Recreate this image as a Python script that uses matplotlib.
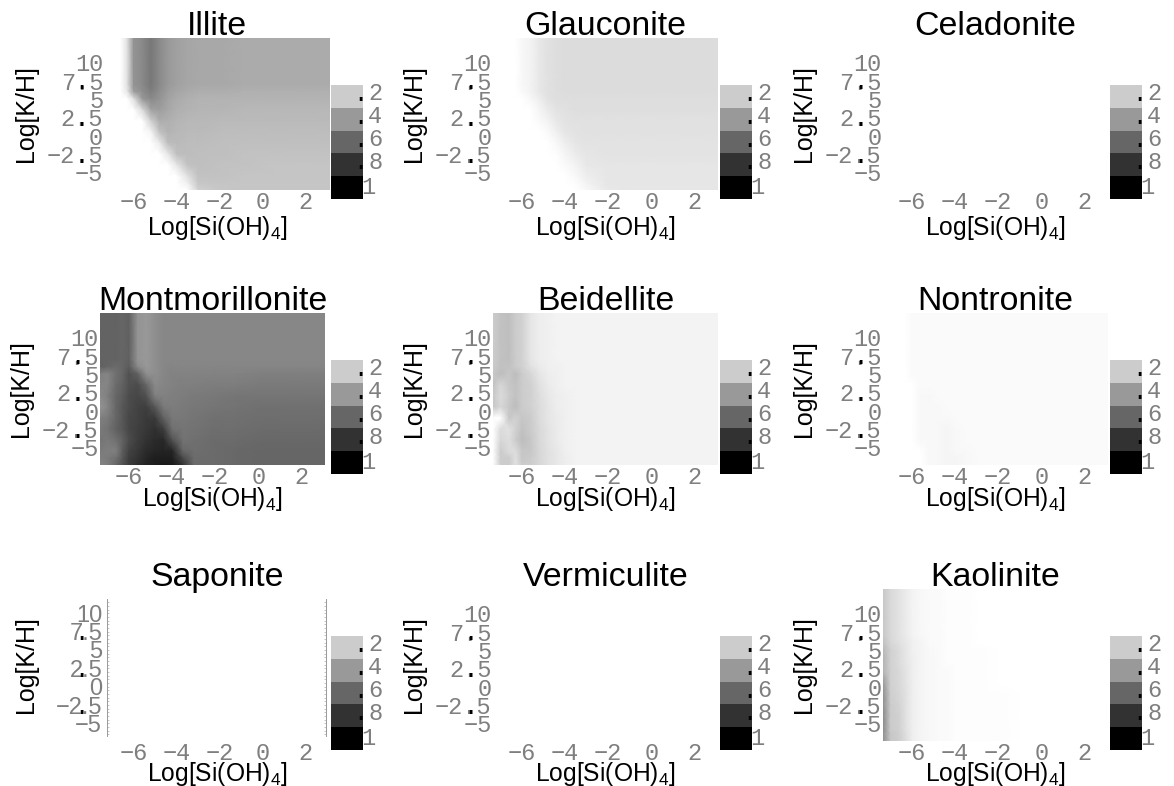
import numpy as np
import matplotlib
matplotlib.use('Agg')
import matplotlib.pyplot as plt

plt.rcParams['font.family'] = ['Liberation Sans', 'DejaVu Sans']
plt.rcParams['mathtext.default'] = 'regular'

# grid nodes shared by every panel, values are percent read from the grey level
x_nodes = [-7.35, -7.0, -6.6, -6.3, -6.0, -5.6, -5.2, -4.8, -4.4, -4.0, -3.5, -3.0, -2.0, -1.0, 0.5, 3.1]
y_nodes = [13.3, 7.0, 6.0, 5.0, 3.5, 2.0, 0.5, -1.0, -2.5, -4.0, -5.5, -6.5, -7.4]

illite = [
    [0, 0, 0, 12, 42, 46, 53, 46, 40, 37, 35, 34, 34, 33, 33, 33],
    [0, 0, 0, 12, 42, 46, 53, 46, 40, 37, 35, 34, 34, 33, 33, 33],
    [0, 0, 0, 10, 38, 44, 50, 44, 38, 35, 33, 32, 32, 31, 31, 31],
    [0, 0, 0, 0, 12, 40, 46, 42, 36, 33, 31, 30, 30, 30, 30, 30],
    [0, 0, 0, 0, 0, 14, 36, 38, 34, 31, 30, 29, 29, 28, 28, 28],
    [0, 0, 0, 0, 0, 0, 18, 32, 31, 29, 28, 28, 27, 27, 27, 27],
    [0, 0, 0, 0, 0, 0, 4, 24, 30, 28, 27, 27, 26, 26, 26, 26],
    [0, 0, 0, 0, 0, 0, 0, 8, 26, 27, 26, 26, 25, 25, 25, 25],
    [0, 0, 0, 0, 0, 0, 0, 0, 10, 25, 26, 25, 25, 24, 24, 24],
    [0, 0, 0, 0, 0, 0, 0, 0, 0, 10, 24, 25, 24, 24, 23, 23],
    [0, 0, 0, 0, 0, 0, 0, 0, 0, 0, 12, 24, 24, 23, 23, 23],
    [0, 0, 0, 0, 0, 0, 0, 0, 0, 0, 6, 22, 23, 23, 23, 23],
    [0, 0, 0, 0, 0, 0, 0, 0, 0, 0, 0, 18, 22, 23, 23, 23],
]
glauconite = [
    [0, 0, 0, 0, 3, 5, 9, 12, 13, 14, 14, 14, 14, 14, 14, 14],
    [0, 0, 0, 0, 3, 5, 9, 12, 13, 14, 14, 14, 14, 14, 14, 14],
    [0, 0, 0, 0, 2, 5, 9, 12, 13, 14, 14, 14, 14, 14, 14, 14],
    [0, 0, 0, 0, 0, 3, 7, 11, 13, 13, 13, 13, 13, 13, 13, 13],
    [0, 0, 0, 0, 0, 0, 4, 8, 11, 12, 13, 13, 13, 13, 13, 13],
    [0, 0, 0, 0, 0, 0, 2, 5, 9, 11, 12, 12, 12, 12, 12, 12],
    [0, 0, 0, 0, 0, 0, 0, 2, 6, 10, 11, 12, 12, 12, 12, 12],
    [0, 0, 0, 0, 0, 0, 0, 0, 3, 7, 10, 11, 11, 11, 11, 11],
    [0, 0, 0, 0, 0, 0, 0, 0, 1, 4, 8, 10, 11, 11, 11, 11],
    [0, 0, 0, 0, 0, 0, 0, 0, 0, 2, 5, 9, 10, 10, 10, 10],
    [0, 0, 0, 0, 0, 0, 0, 0, 0, 0, 3, 7, 10, 10, 10, 10],
    [0, 0, 0, 0, 0, 0, 0, 0, 0, 0, 1, 5, 10, 10, 10, 10],
    [0, 0, 0, 0, 0, 0, 0, 0, 0, 0, 0, 3, 9, 10, 10, 10],
]
montmorillonite = [
    [61, 61, 61, 60, 62, 42, 40, 44, 47, 47, 47, 47, 47, 47, 47, 47],
    [61, 61, 61, 60, 62, 42, 40, 44, 47, 47, 47, 47, 47, 47, 47, 47],
    [62, 60, 58, 60, 64, 46, 40, 44, 47, 48, 48, 48, 48, 48, 48, 48],
    [50, 48, 56, 60, 68, 62, 44, 44, 47, 49, 49, 49, 49, 49, 50, 50],
    [48, 48, 58, 62, 68, 70, 60, 46, 48, 49, 50, 50, 51, 51, 52, 52],
    [46, 50, 60, 64, 70, 72, 68, 50, 49, 50, 51, 52, 53, 54, 54, 54],
    [42, 48, 60, 66, 70, 74, 75, 66, 52, 51, 52, 53, 54, 55, 56, 56],
    [50, 52, 60, 66, 72, 74, 77, 77, 62, 53, 53, 54, 56, 56, 57, 57],
    [52, 55, 62, 66, 72, 75, 78, 81, 76, 56, 54, 55, 57, 57, 58, 58],
    [54, 52, 56, 62, 70, 76, 80, 83, 84, 68, 55, 56, 58, 58, 59, 59],
    [52, 50, 50, 64, 74, 78, 83, 85, 86, 86, 60, 57, 58, 59, 60, 60],
    [50, 52, 56, 66, 76, 80, 85, 88, 88, 88, 72, 58, 58, 59, 60, 60],
    [48, 50, 60, 68, 76, 82, 86, 88, 90, 90, 80, 58, 58, 59, 60, 60],
]
beidellite = [
    [20, 24, 25, 20, 18, 10, 7, 6, 5, 5, 5, 5, 5, 5, 5, 5],
    [20, 24, 25, 20, 18, 10, 7, 6, 5, 5, 5, 5, 5, 5, 5, 5],
    [20, 24, 24, 20, 18, 12, 8, 6, 6, 5, 5, 5, 5, 5, 5, 5],
    [22, 26, 22, 26, 20, 16, 10, 7, 6, 5, 5, 5, 5, 5, 5, 5],
    [24, 16, 22, 24, 20, 18, 12, 8, 6, 5, 5, 5, 5, 5, 5, 5],
    [22, 14, 20, 24, 20, 18, 13, 9, 7, 6, 5, 5, 5, 5, 5, 5],
    [22, 16, 22, 26, 20, 18, 14, 10, 7, 6, 5, 5, 5, 5, 5, 5],
    [0, 0, 22, 18, 22, 20, 14, 10, 8, 6, 5, 5, 5, 5, 5, 5],
    [0, 14, 12, 18, 24, 20, 15, 11, 8, 6, 5, 5, 5, 5, 5, 5],
    [0, 16, 13, 20, 26, 22, 15, 11, 8, 6, 5, 5, 5, 5, 5, 5],
    [0, 20, 14, 14, 22, 22, 16, 12, 9, 6, 5, 5, 5, 5, 5, 5],
    [0, 20, 20, 12, 22, 20, 16, 12, 9, 7, 5, 5, 5, 5, 5, 5],
    [0, 20, 20, 12, 20, 20, 16, 12, 9, 7, 5, 5, 5, 5, 5, 5],
]
nontronite = [
    [0, 0, 0, 0, 2, 2, 2, 2, 2, 2, 2, 2, 2, 2, 2, 2],
    [0, 0, 0, 0, 2, 2, 2, 2, 2, 2, 2, 2, 2, 2, 2, 2],
    [0, 0, 0, 0, 2, 2, 2, 2, 2, 2, 2, 2, 2, 2, 2, 2],
    [0, 0, 0, 0, 2, 2, 2, 2, 2, 2, 2, 2, 2, 2, 2, 2],
    [0, 0, 0, 0, 0, 2, 2, 2, 2, 2, 2, 2, 2, 2, 2, 2],
    [0, 0, 0, 0, 0, 3, 3, 2, 2, 2, 2, 2, 2, 2, 2, 2],
    [0, 0, 0, 0, 0, 3, 3, 3, 2, 2, 2, 2, 2, 2, 2, 2],
    [0, 0, 0, 0, 0, 3, 3, 3, 3, 2, 2, 2, 2, 2, 2, 2],
    [0, 0, 0, 0, 0, 3, 3, 3, 4, 3, 2, 2, 2, 2, 2, 2],
    [0, 0, 0, 0, 0, 3, 3, 3, 4, 3, 2, 2, 2, 2, 2, 2],
    [0, 0, 0, 0, 0, 0, 3, 3, 4, 3, 3, 2, 2, 2, 2, 2],
    [0, 0, 0, 0, 0, 0, 3, 3, 4, 4, 3, 2, 2, 2, 2, 2],
    [0, 0, 0, 0, 0, 0, 3, 3, 4, 4, 3, 2, 2, 2, 2, 2],
]
kaolinite = [
    [22, 15, 11, 8, 5, 3, 2, 2, 1, 1, 1, 0, 0, 0, 0, 0],
    [22, 15, 11, 8, 5, 3, 2, 2, 1, 1, 1, 0, 0, 0, 0, 0],
    [24, 16, 12, 9, 6, 4, 2, 2, 1, 1, 1, 0, 0, 0, 0, 0],
    [28, 18, 14, 10, 6, 4, 3, 2, 1, 1, 1, 1, 0, 0, 0, 0],
    [30, 18, 14, 10, 7, 4, 3, 2, 1, 1, 1, 1, 0, 0, 0, 0],
    [30, 18, 15, 11, 7, 4, 3, 2, 2, 1, 1, 1, 0, 0, 0, 0],
    [40, 18, 15, 11, 7, 4, 3, 2, 2, 1, 1, 1, 0, 0, 0, 0],
    [44, 19, 16, 12, 7, 4, 3, 2, 2, 1, 1, 1, 1, 0, 0, 0],
    [44, 20, 17, 12, 7, 4, 3, 2, 2, 1, 1, 1, 1, 0, 0, 0],
    [46, 20, 18, 12, 7, 4, 3, 2, 2, 1, 1, 1, 1, 0, 0, 0],
    [46, 20, 18, 12, 7, 4, 3, 2, 2, 1, 1, 1, 1, 0, 0, 0],
    [44, 22, 19, 13, 7, 4, 3, 2, 2, 1, 1, 1, 1, 0, 0, 0],
    [44, 22, 19, 13, 7, 4, 3, 2, 2, 1, 1, 1, 1, 0, 0, 0],
]

titles = ['Illite', 'Glauconite', 'Celadonite',
          'Montmorillonite', 'Beidellite', 'Nontronite',
          'Saponite', 'Vermiculite', 'Kaolinite']
grids = [illite, glauconite, None,
         montmorillonite, beidellite, nontronite,
         None, None, kaolinite]

x_ticks = [-6, -4, -2, 0, 2]
x_ticklabels = ['\u22126', '\u22124', '\u22122', '0', '2']
y_ticks = [10, 7.5, 5, 2.5, 0, -2.5, -5]
y_ticklabels = ['10', '7.5', '5', '2.5', '0', '\u22122.5', '\u22125']
key_levels = [20, 40, 60, 80, 100]
key_labels = ['2', '4', '6', '8', '1']

W, H = 1174, 786
GREY = '#7f7f7f'
MONO = 'Liberation Mono'

# pixel layout: left edge per panel, top edge per row
lefts = [104.5, 493, 883, 100, 493, 883, 104.5, 493, 883]
tops = [38, 313, 589]
key_lefts = [331, 720, 1110]
key_tops = [85, 360, 636]
xlabel_pads = [-0.6, -3, -4]

fig = plt.figure(figsize=(W / 100, H / 100), dpi=100)

for i, name in enumerate(titles):
    row, col = i // 3, i % 3
    ax = fig.add_axes([lefts[i] / W, 1 - (tops[row] + 152) / H, 225 / W, 152 / H])
    if grids[i] is not None:
        ax.pcolormesh(x_nodes, y_nodes, np.array(grids[i]), shading='gouraud',
                      cmap='gray_r', vmin=0, vmax=100)
    ax.set_xlim(-7.35, 3.1)
    ax.set_ylim(-7.4, 13.3)
    for s in ax.spines.values():
        s.set_visible(False)
    ax.set_xticks(x_ticks, labels=x_ticklabels)
    ax.set_yticks(y_ticks, labels=y_ticklabels)
    ax.tick_params(length=0, labelsize=17, labelcolor=GREY, pad=1)
    for t in ax.get_xticklabels() + ax.get_yticklabels():
        t.set_family(MONO)
    ax.set_title(name, fontsize=24.4, y=1.0, pad=2)
    ax.set_xlabel('Log[Si(OH)$_4$]', fontsize=17.7, labelpad=xlabel_pads[row])
    ax.set_ylabel('Log[K/H]', fontsize=18)
    ax.yaxis.set_label_coords(-67 / 225, 0.5)

    # the decimal points are black in the reference
    for y, lab in zip(y_ticks, y_ticklabels):
        if '.' in lab:
            ax.annotate('.', xy=(0, y), xycoords=ax.get_yaxis_transform(),
                        xytext=(-16.5, -1.5), textcoords='offset points',
                        ha='center', va='center', fontsize=17, family=MONO,
                        color='black')

    if name == 'Saponite':
        for side, pos in [('left', 0.012), ('right', 0.985)]:
            ax.spines[side].set_visible(True)
            ax.spines[side].set_position(('axes', pos))
            ax.spines[side].set_bounds(-6.7, 12)
            ax.spines[side].set_color('#999999')
            ax.spines[side].set_linewidth(0.7)
        ax.set_yticks(np.arange(-6.5, 12, 0.5), minor=True)
        ax.tick_params(axis='y', which='both', direction='in', length=1.5, width=0.4,
                       color='#999999', right=True, pad=3.6)

    # grey key beside each panel
    kax = fig.add_axes([key_lefts[col] / W, 1 - (key_tops[row] + 114) / H, 31.5 / W, 114 / H])
    kax.imshow(np.array(key_levels).reshape(-1, 1), cmap='gray_r', vmin=0, vmax=100,
               aspect='auto', extent=[0, 1, 5, 0])
    kax.set_axis_off()
    for k, lab in enumerate(key_labels):
        if lab == '1':
            kax.text(1.18, k + 0.5, lab, family=MONO, fontsize=17, color=GREY,
                     ha='center', va='center', clip_on=False)
            continue
        kax.text(1.41, k + 0.38, lab, family=MONO, fontsize=17, color=GREY,
                 ha='center', va='center', clip_on=False)
        kax.text(0.94, k + 0.42, '.', family=MONO, fontsize=17, color='black',
                 ha='center', va='center', clip_on=False)

fig.savefig('out.png', dpi=100)
